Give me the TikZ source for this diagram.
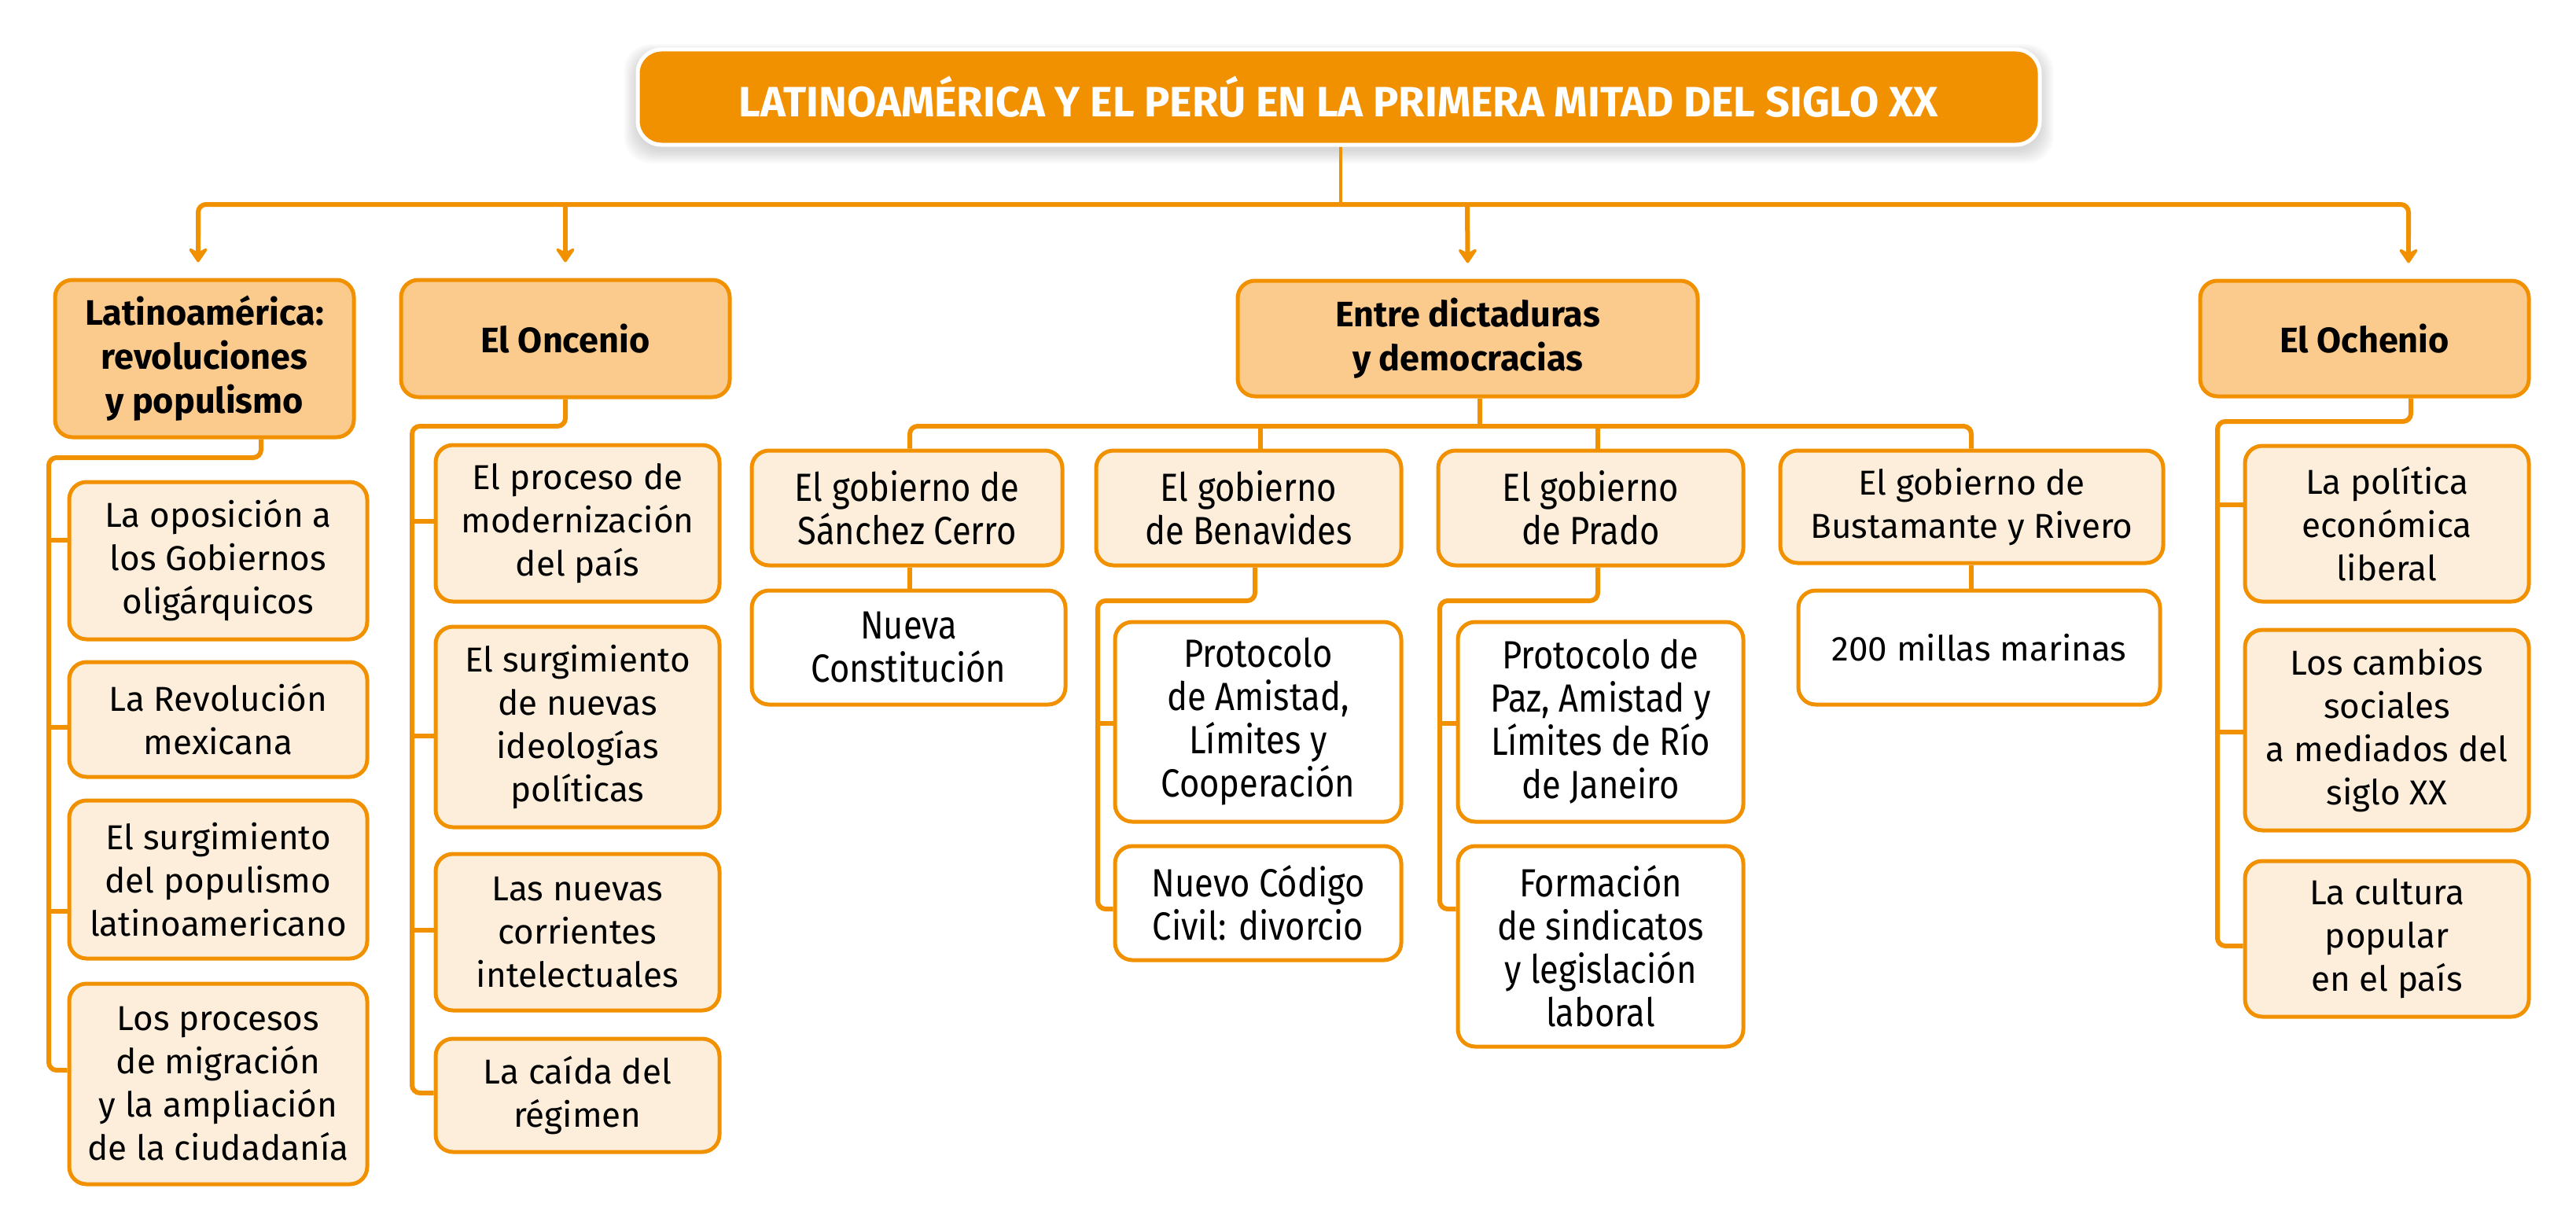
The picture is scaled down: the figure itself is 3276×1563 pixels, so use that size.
\documentclass[tikz,border=0pt]{standalone}
\usepackage{fontspec}
\setmainfont{Fira Sans}
\newfontfamily\cond[FakeStretch=0.87]{Fira Sans}
\usetikzlibrary{arrows.meta}
\definecolor{orng}{HTML}{F29100}
\definecolor{dark}{HTML}{FBCB8E}
\definecolor{light}{HTML}{FDEEDC}
\tikzset{
  box/.style={draw=orng, line width=5pt, rounded corners=22pt, align=center, inner sep=0pt, text=black, font=\fontsize{44}{55}\selectfont},
  lvl/.style={box, fill=dark, font=\bfseries\fontsize{45}{56}\selectfont},
  lt/.style={box, fill=light},
  ltc/.style={box, fill=light, font=\cond\fontsize{50}{55}\selectfont},
  wtc/.style={box, fill=white, font=\cond\fontsize{50}{55}\selectfont},
  wt/.style={box, fill=white},
  conn/.style={draw=orng, line width=6pt, rounded corners=10pt},
  arr/.style={draw=orng, line width=6pt, -{Stealth[length=22pt, width=30pt, inset=8pt, round]}}
}
\begin{document}
\begin{tikzpicture}[x=1pt, y=-1pt]
\useasboundingbox (0,0) rectangle (3276,1563);
% title shadow
\foreach \i in {1,...,8}{
  \fill[black, opacity=0.018, rounded corners=34pt] (811-\i*2.2,63-\i*1.6+6) rectangle (2594+\i*2.2,184+\i*2.2+6);
}
\node[fill=orng, draw=white, line width=5pt, rounded corners=30pt, minimum width=1783pt, minimum height=121pt, inner sep=0pt, text=white, font=\bfseries\fontsize{54}{60}\selectfont] (title) at (1702.5,123.5) {LATINOAMÉRICA Y EL PERÚ EN LA PRIMERA MITAD DEL SIGLO XX};

% level 1
\node[lvl, minimum width=380pt, minimum height=200pt] (latam) at (260,456) {Latinoamérica:\\revoluciones\\y populismo};
\node[lvl, minimum width=418pt, minimum height=149pt] (once) at (719,430.5) {El Oncenio};
\node[lvl, minimum width=585pt, minimum height=147pt] (entre) at (1866.5,430.5) {Entre dictaduras\\y democracias};
\node[lvl, minimum width=418pt, minimum height=147pt] (ocho) at (3007,430.5) {El Ochenio};

% top connectors
\coordinate (bl) at (252,260);
\coordinate (br) at (3063,260);
\draw[draw=orng, line width=4pt] (title.south -| 1705,0) -- (1705,260);
\draw[conn] (252,300) -- (bl) -- (br) -- (3063,300);
\draw[arr] (252,290) -- ([yshift=20pt]latam.north -| 252,0);
\draw[arr] (719,260) -- ([yshift=20pt]once.north);
\draw[arr] (1866,260) -- ([yshift=20pt]entre.north);
\draw[arr] (3063,290) -- ([yshift=20pt]ocho.north -| 3063,0);

% Latinoamerica children
\node[lt, minimum width=379pt, minimum height=200pt] (a1) at (277.5,713) {La oposición a\\los Gobiernos\\oligárquicos};
\node[lt, minimum width=379pt, minimum height=146pt] (a2) at (277.5,915) {La Revolución\\mexicana};
\node[lt, minimum width=379pt, minimum height=201pt] (a3) at (277.5,1118.5) {El surgimiento\\del populismo\\latinoamericano};
\node[lt, minimum width=379pt, minimum height=255pt] (a4) at (277.5,1378.5) {Los procesos\\de migración\\y la ampliación\\de la ciudadanía};
\draw[conn] (latam.south -| 332,0) -- (332,582) -- (62,582) -- (62,1361) -- (a4.west |- 0,1361);
\draw[conn] (62,687) -- (a1.west |- 0,687);
\draw[conn] (62,925) -- (a2.west |- 0,925);
\draw[conn] (62,1159) -- (a3.west |- 0,1159);

% Oncenio children
\node[lt, minimum width=361pt, minimum height=199pt] (b1) at (734.5,665.5) {El proceso de\\modernización\\del país};
\node[lt, minimum width=361pt, minimum height=255pt] (b2) at (734.5,924.5) {El surgimiento\\de nuevas\\ideologías\\políticas};
\node[lt, minimum width=361pt, minimum height=199pt] (b3) at (734.5,1185.5) {Las nuevas\\corrientes\\intelectuales};
\node[lt, minimum width=361pt, minimum height=144pt] (b4) at (734.5,1393) {La caída del\\régimen};
\draw[conn] (once.south) -- (719,542) -- (524,542) -- (524,1390) -- (b4.west |- 0,1390);
\draw[conn] (524,663) -- (b1.west |- 0,663);
\draw[conn] (524,936) -- (b2.west |- 0,936);
\draw[conn] (524,1183) -- (b3.west |- 0,1183);

% Entre children
\node[ltc, minimum width=395pt, minimum height=146pt] (g1) at (1153.5,646) {El gobierno de\\Sánchez Cerro};
\node[ltc, minimum width=388pt, minimum height=146pt] (g2) at (1588,646) {El gobierno\\de Benavides};
\node[ltc, minimum width=388pt, minimum height=146pt] (g3) at (2023,646) {El gobierno\\de Prado};
\node[lt, minimum width=487pt, minimum height=143pt] (g4) at (2507.5,644.5) {El gobierno de\\Bustamante y Rivero};
\draw[conn] (entre.south -| 1882,0) -- (1882,542);
\draw[conn] (g1.north -| 1157,0) -- (1157,542) -- (2507,542) -- (g4.north -| 2507,0);
\draw[conn] (1603,542) -- (g2.north -| 1603,0);
\draw[conn] (2032,542) -- (g3.north -| 2032,0);

\node[wtc, minimum width=399pt, minimum height=145pt] (c0) at (1155.5,823.5) {Nueva\\Constitución};
\draw[conn] (g1.south -| 1157,0) -- (c0.north -| 1157,0);

\node[wtc, minimum width=364pt, minimum height=254pt] (c1) at (1600,918) {Protocolo\\de Amistad,\\Límites y\\Cooperación};
\node[wtc, minimum width=364pt, minimum height=145pt] (c2) at (1600,1148.5) {Nuevo Código\\Civil: divorcio};
\draw[conn] (g2.south -| 1596,0) -- (1596,764) -- (1396,764) -- (1396,1156) -- (c2.west |- 0,1156);
\draw[conn] (1396,920) -- (c1.west |- 0,920);

\node[wtc, minimum width=363pt, minimum height=254pt] (d1) at (2035.5,918) {Protocolo de\\Paz, Amistad y\\Límites de Río\\de Janeiro};
\node[wtc, minimum width=363pt, minimum height=255pt] (d2) at (2035.5,1203.5) {Formación\\de sindicatos\\y legislación\\laboral};
\draw[conn] (g3.south -| 2032,0) -- (2032,764) -- (1831,764) -- (1831,1156) -- (d2.west |- 0,1156);
\draw[conn] (1831,920) -- (d1.west |- 0,920);

\node[wt, minimum width=460pt, minimum height=145pt] (f1) at (2517,823.5) {200 millas marinas};
\draw[conn] (g4.south -| 2507,0) -- (f1.north -| 2507,0);

% Ochenio children
\node[lt, minimum width=361pt, minimum height=198pt] (e1) at (3035.5,666) {La política\\económica\\liberal};
\node[lt, minimum width=361pt, minimum height=255pt] (e2) at (3035.5,928.5) {Los cambios\\sociales\\a mediados del\\siglo XX};
\node[lt, minimum width=361pt, minimum height=198pt] (e3) at (3035.5,1194) {La cultura\\popular\\en el país};
\draw[conn] (ocho.south -| 3066,0) -- (3066,536) -- (2820,536) -- (2820,1203) -- (e3.west |- 0,1203);
\draw[conn] (2820,642) -- (e1.west |- 0,642);
\draw[conn] (2820,931) -- (e2.west |- 0,931);
\end{tikzpicture}
\end{document}
